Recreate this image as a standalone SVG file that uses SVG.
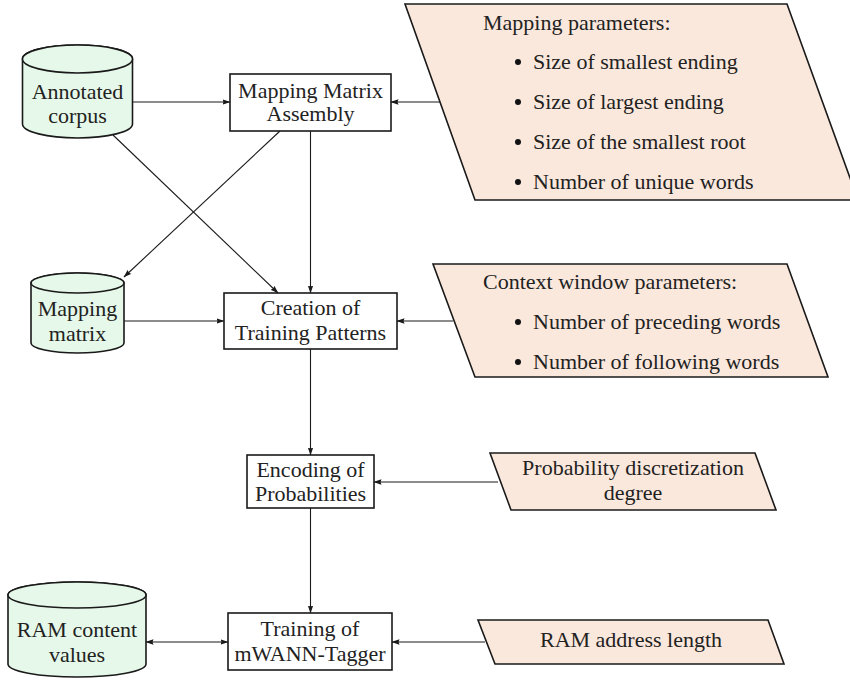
<svg xmlns="http://www.w3.org/2000/svg" width="850" height="680" viewBox="0 0 850 680">
<style>
text{font-family:'Liberation Serif','DejaVu Serif',serif;font-size:22px;fill:#222}
.c{text-anchor:middle}
.box{fill:#fff;stroke:#1a1a1a;stroke-width:1.6}
.cyl{fill:#e6f8e9;stroke:#1a1a1a;stroke-width:1.6}
.par{fill:#fbe8dc;stroke:#1a1a1a;stroke-width:1.6}
.ln{fill:none;stroke:#1a1a1a;stroke-width:1.1}
.dot{fill:#111}
</style>
<defs>
<marker id="arr" viewBox="0 0 8 6" refX="7.5" refY="3" markerWidth="8" markerHeight="6" orient="auto-start-reverse" markerUnits="userSpaceOnUse">
<path d="M0,0.3 L8,3 L0,5.7 L1,3 Z" fill="#1a1a1a"/>
</marker>
</defs>

<g id="annotated-corpus">
<path class="cyl" d="M22.5,59 V124 A55,14 0 0 0 132.5,124 V59 A55,14 0 0 0 22.5,59 Z"/>
<ellipse class="cyl" cx="77.5" cy="59" rx="55" ry="14"/>
<text class="c" x="77.5" y="99">Annotated</text>
<text class="c" x="77.5" y="123">corpus</text>
</g>

<g id="mapping-matrix-assembly">
<rect class="box" x="230" y="74" width="161" height="57"/>
<text class="c" x="310.5" y="98">Mapping Matrix</text>
<text class="c" x="310.5" y="121">Assembly</text>
</g>

<g id="mapping-parameters">
<polygon class="par" points="405,4 787,4 858,200 475,200"/>
<text x="483" y="30">Mapping parameters:</text>
<circle class="dot" cx="518" cy="62" r="3"/>
<text x="533" y="69">Size of smallest ending</text>
<circle class="dot" cx="518" cy="102" r="3"/>
<text x="533" y="109">Size of largest ending</text>
<circle class="dot" cx="518" cy="142" r="3"/>
<text x="533" y="149">Size of the smallest root</text>
<circle class="dot" cx="518" cy="182" r="3"/>
<text x="533" y="189">Number of unique words</text>
</g>

<g id="mapping-matrix">
<path class="cyl" d="M31,283 V343 A46.5,10 0 0 0 124,343 V283 A46.5,10 0 0 0 31,283 Z"/>
<ellipse class="cyl" cx="77.5" cy="283" rx="46.5" ry="10"/>
<text class="c" x="77.5" y="316">Mapping</text>
<text class="c" x="77.5" y="341">matrix</text>
</g>

<g id="creation-of-training-patterns">
<rect class="box" x="224" y="293" width="173" height="56"/>
<text class="c" x="310.5" y="315">Creation of</text>
<text class="c" x="310.5" y="340">Training Patterns</text>
</g>

<g id="context-window-parameters">
<polygon class="par" points="433,264 787,264 828,377 475,377"/>
<text x="483" y="289">Context window parameters:</text>
<circle class="dot" cx="518" cy="322" r="3"/>
<text x="533" y="329">Number of preceding words</text>
<circle class="dot" cx="518" cy="362" r="3"/>
<text x="533" y="369">Number of following words</text>
</g>

<g id="encoding-of-probabilities">
<rect class="box" x="247" y="455" width="127" height="53"/>
<text class="c" x="310.5" y="477">Encoding of</text>
<text class="c" x="310.5" y="501">Probabilities</text>
</g>

<g id="probability-discretization-degree">
<polygon class="par" points="490,453 755,453 776,510 511,510"/>
<text class="c" x="633" y="475">Probability discretization</text>
<text class="c" x="633" y="500">degree</text>
</g>

<g id="ram-content-values">
<path class="cyl" d="M8,595 V664 A69,13 0 0 0 146,664 V595 A69,13 0 0 0 8,595 Z"/>
<ellipse class="cyl" cx="77" cy="595" rx="69" ry="13"/>
<text class="c" x="77" y="637">RAM content</text>
<text class="c" x="77" y="662">values</text>
</g>

<g id="training-of-mwann-tagger">
<rect class="box" x="228" y="613" width="164" height="57"/>
<text class="c" x="310" y="636">Training of</text>
<text class="c" x="310" y="661">mWANN-Tagger</text>
</g>

<g id="ram-address-length">
<polygon class="par" points="478,620 768,620 784,664 495,664"/>
<text class="c" x="631" y="647">RAM address length</text>
</g>

<g id="connectors">
<path class="ln" d="M132.5,102 H230" marker-end="url(#arr)"/>
<path class="ln" d="M440,102 H391" marker-end="url(#arr)"/>
<path class="ln" d="M113,135 L278,293" marker-end="url(#arr)"/>
<path class="ln" d="M280,131 L124,277" marker-end="url(#arr)"/>
<path class="ln" d="M310.5,131 V293" marker-end="url(#arr)"/>
<path class="ln" d="M124,321 H224" marker-end="url(#arr)"/>
<path class="ln" d="M453,321 H397" marker-end="url(#arr)"/>
<path class="ln" d="M310.5,349 V455" marker-end="url(#arr)"/>
<path class="ln" d="M498,482 H374" marker-end="url(#arr)"/>
<path class="ln" d="M310.5,508 V613" marker-end="url(#arr)"/>
<path class="ln" d="M146,642 H228" marker-start="url(#arr)" marker-end="url(#arr)"/>
<path class="ln" d="M485,642 H392" marker-end="url(#arr)"/>
</g>
</svg>
